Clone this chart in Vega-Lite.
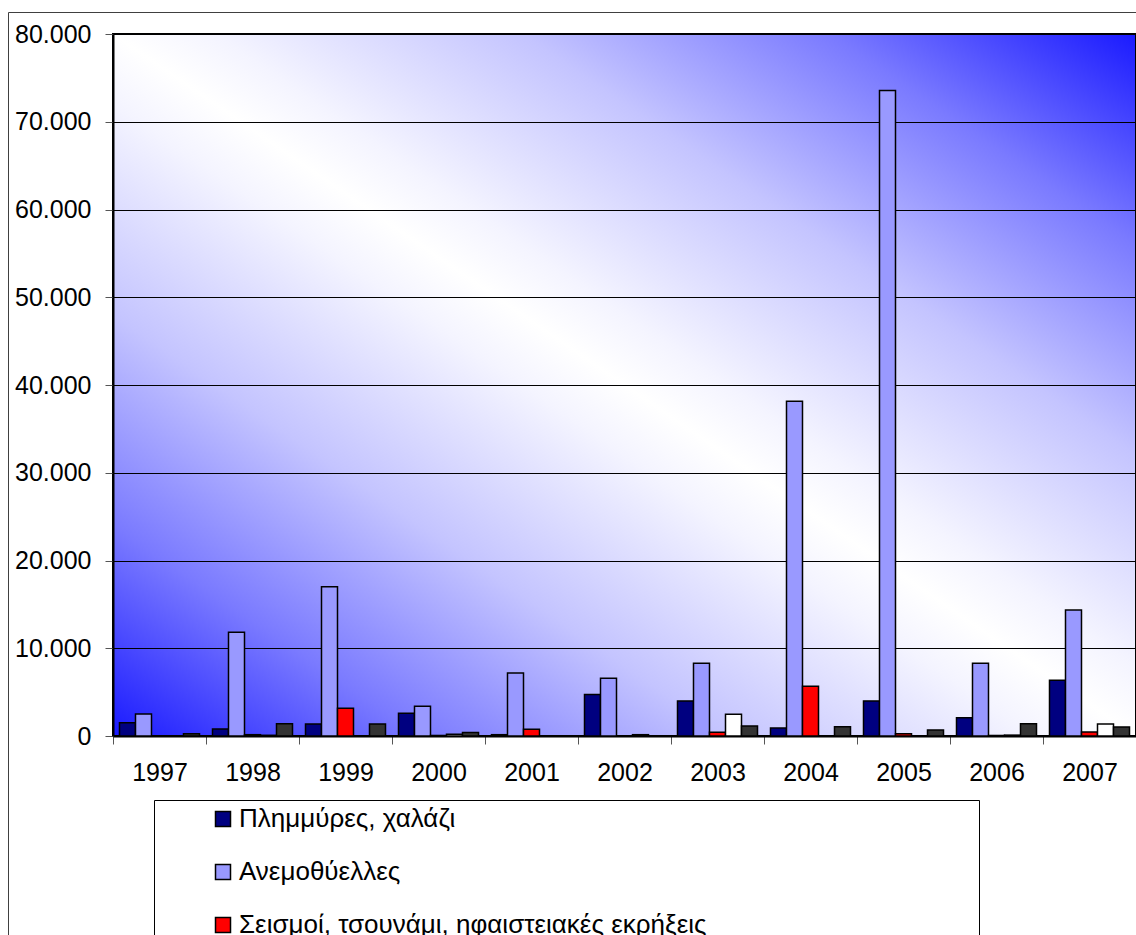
{
  "$schema": "https://vega.github.io/schema/vega-lite/v6.json",
  "width": 1023,
  "height": 702,
  "autosize": {"type": "none"},
  "padding": {"left": 113, "top": 34, "right": 0, "bottom": 199},
  "background": "white",
  "data": {
    "values": [
      {"year": "1997", "type": "Πλημμύρες, χαλάζι", "value": 1500},
      {"year": "1997", "type": "Ανεμοθύελλες", "value": 2500},
      {"year": "1997", "type": "Σεισμοί, τσουνάμι, ηφαιστειακές εκρήξεις", "value": 0},
      {"year": "1997", "type": "Ξηρασία, πυρκαγιές, καύσωνες", "value": 0},
      {"year": "1997", "type": "Ψύχος, παγετός, χιόνι", "value": 250},
      {"year": "1998", "type": "Πλημμύρες, χαλάζι", "value": 800},
      {"year": "1998", "type": "Ανεμοθύελλες", "value": 11820},
      {"year": "1998", "type": "Σεισμοί, τσουνάμι, ηφαιστειακές εκρήξεις", "value": 150},
      {"year": "1998", "type": "Ξηρασία, πυρκαγιές, καύσωνες", "value": 80},
      {"year": "1998", "type": "Ψύχος, παγετός, χιόνι", "value": 1400},
      {"year": "1999", "type": "Πλημμύρες, χαλάζι", "value": 1370},
      {"year": "1999", "type": "Ανεμοθύελλες", "value": 17000},
      {"year": "1999", "type": "Σεισμοί, τσουνάμι, ηφαιστειακές εκρήξεις", "value": 3150},
      {"year": "1999", "type": "Ξηρασία, πυρκαγιές, καύσωνες", "value": 0},
      {"year": "1999", "type": "Ψύχος, παγετός, χιόνι", "value": 1370},
      {"year": "2000", "type": "Πλημμύρες, χαλάζι", "value": 2590},
      {"year": "2000", "type": "Ανεμοθύελλες", "value": 3390},
      {"year": "2000", "type": "Σεισμοί, τσουνάμι, ηφαιστειακές εκρήξεις", "value": 60},
      {"year": "2000", "type": "Ξηρασία, πυρκαγιές, καύσωνες", "value": 200},
      {"year": "2000", "type": "Ψύχος, παγετός, χιόνι", "value": 400},
      {"year": "2001", "type": "Πλημμύρες, χαλάζι", "value": 150},
      {"year": "2001", "type": "Ανεμοθύελλες", "value": 7180},
      {"year": "2001", "type": "Σεισμοί, τσουνάμι, ηφαιστειακές εκρήξεις", "value": 770},
      {"year": "2001", "type": "Ξηρασία, πυρκαγιές, καύσωνες", "value": 0},
      {"year": "2001", "type": "Ψύχος, παγετός, χιόνι", "value": 0},
      {"year": "2002", "type": "Πλημμύρες, χαλάζι", "value": 4720},
      {"year": "2002", "type": "Ανεμοθύελλες", "value": 6590},
      {"year": "2002", "type": "Σεισμοί, τσουνάμι, ηφαιστειακές εκρήξεις", "value": 0},
      {"year": "2002", "type": "Ξηρασία, πυρκαγιές, καύσωνες", "value": 150},
      {"year": "2002", "type": "Ψύχος, παγετός, χιόνι", "value": 0},
      {"year": "2003", "type": "Πλημμύρες, χαλάζι", "value": 4000},
      {"year": "2003", "type": "Ανεμοθύελλες", "value": 8300},
      {"year": "2003", "type": "Σεισμοί, τσουνάμι, ηφαιστειακές εκρήξεις", "value": 420},
      {"year": "2003", "type": "Ξηρασία, πυρκαγιές, καύσωνες", "value": 2480},
      {"year": "2003", "type": "Ψύχος, παγετός, χιόνι", "value": 1140},
      {"year": "2004", "type": "Πλημμύρες, χαλάζι", "value": 910},
      {"year": "2004", "type": "Ανεμοθύελλες", "value": 38150},
      {"year": "2004", "type": "Σεισμοί, τσουνάμι, ηφαιστειακές εκρήξεις", "value": 5680},
      {"year": "2004", "type": "Ξηρασία, πυρκαγιές, καύσωνες", "value": 0},
      {"year": "2004", "type": "Ψύχος, παγετός, χιόνι", "value": 1060},
      {"year": "2005", "type": "Πλημμύρες, χαλάζι", "value": 4000},
      {"year": "2005", "type": "Ανεμοθύελλες", "value": 73550},
      {"year": "2005", "type": "Σεισμοί, τσουνάμι, ηφαιστειακές εκρήξεις", "value": 270},
      {"year": "2005", "type": "Ξηρασία, πυρκαγιές, καύσωνες", "value": 0},
      {"year": "2005", "type": "Ψύχος, παγετός, χιόνι", "value": 690},
      {"year": "2006", "type": "Πλημμύρες, χαλάζι", "value": 2090},
      {"year": "2006", "type": "Ανεμοθύελλες", "value": 8300},
      {"year": "2006", "type": "Σεισμοί, τσουνάμι, ηφαιστειακές εκρήξεις", "value": 60},
      {"year": "2006", "type": "Ξηρασία, πυρκαγιές, καύσωνες", "value": 100},
      {"year": "2006", "type": "Ψύχος, παγετός, χιόνι", "value": 1400},
      {"year": "2007", "type": "Πλημμύρες, χαλάζι", "value": 6360},
      {"year": "2007", "type": "Ανεμοθύελλες", "value": 14350},
      {"year": "2007", "type": "Σεισμοί, τσουνάμι, ηφαιστειακές εκρήξεις", "value": 460},
      {"year": "2007", "type": "Ξηρασία, πυρκαγιές, καύσωνες", "value": 1370},
      {"year": "2007", "type": "Ψύχος, παγετός, χιόνι", "value": 1030}
    ]
  },
  "mark": {"type": "bar", "stroke": "black", "strokeWidth": 1.5},
  "encoding": {
    "x": {
      "field": "year",
      "type": "nominal",
      "scale": {"paddingInner": 0, "paddingOuter": 0},
      "axis": {
        "title": null,
        "labelAngle": 0,
        "tickBand": "extent",
        "tickSize": 8,
        "tickColor": "#555555",
        "domainColor": "black",
        "domainWidth": 2,
        "labelFont": "Liberation Sans",
        "labelFontSize": 25,
        "labelColor": "black",
        "labelPadding": 16
      }
    },
    "xOffset": {
      "field": "type",
      "type": "nominal",
      "scale": {
        "domain": ["Πλημμύρες, χαλάζι", "Ανεμοθύελλες", "Σεισμοί, τσουνάμι, ηφαιστειακές εκρήξεις", "Ξηρασία, πυρκαγιές, καύσωνες", "Ψύχος, παγετός, χιόνι"],
        "paddingInner": 0,
        "paddingOuter": 0.406
      }
    },
    "y": {
      "field": "value",
      "type": "quantitative",
      "scale": {"domain": [0, 80000], "nice": false},
      "axis": {
        "title": null,
        "values": [0, 10000, 20000, 30000, 40000, 50000, 60000, 70000, 80000],
        "labelExpr": "replace(format(datum.value, ','), ',', '.')",
        "grid": true,
        "gridColor": "black",
        "gridWidth": 1,
        "gridOpacity": 1,
        "domainColor": "black",
        "domainWidth": 2,
        "tickColor": "#555555",
        "tickSize": 8,
        "labelFont": "Liberation Sans",
        "labelFontSize": 25,
        "labelColor": "black",
        "labelPadding": 14,
        "labelFlush": false
      }
    },
    "color": {
      "field": "type",
      "type": "nominal",
      "scale": {
        "domain": ["Πλημμύρες, χαλάζι", "Ανεμοθύελλες", "Σεισμοί, τσουνάμι, ηφαιστειακές εκρήξεις", "Ξηρασία, πυρκαγιές, καύσωνες", "Ψύχος, παγετός, χιόνι"],
        "range": ["#000080", "#9999ff", "#ff0000", "#ffffff", "#333333"]
      },
      "legend": {
        "orient": "none",
        "legendX": 41,
        "legendY": 766,
        "direction": "vertical",
        "title": null,
        "strokeColor": "black",
        "fillColor": "white",
        "padding": 6,
        "symbolType": "square",
        "symbolSize": 225,
        "symbolStrokeColor": "black",
        "symbolStrokeWidth": 1.5,
        "symbolOffset": 50,
        "labelFont": "Liberation Sans",
        "labelFontSize": 26,
        "labelColor": "black",
        "labelOffset": 3,
        "labelLimit": 0,
        "rowPadding": 27,
        "labelExpr": "datum.label + '\u2800\u2800\u2800\u2800\u2800\u2800\u2800\u2800\u2800\u2800\u2800\u2800\u2800\u2800'"
      }
    },
    "opacity": {
      "field": "year",
      "type": "ordinal",
      "scale": {"range": [1, 1]},
      "legend": {
        "orient": "none",
        "legendX": -105,
        "legendY": -22,
        "title": null,
        "values": ["1997"],
        "strokeColor": "#404040",
        "padding": 700,
        "symbolSize": 0,
        "symbolStrokeWidth": 0,
        "labelExpr": "''"
      }
    }
  },
  "config": {
    "view": {
      "stroke": "black",
      "strokeWidth": 2,
      "fill": {
        "gradient": "linear",
        "x1": 0, "y1": 1, "x2": 1, "y2": 0,
        "stops": [
          {"offset": 0, "color": "#1a1aff"},
          {"offset": 0.15, "color": "#7a7aff"},
          {"offset": 0.3, "color": "#c4c4ff"},
          {"offset": 0.45, "color": "#f4f4ff"},
          {"offset": 0.5, "color": "#ffffff"},
          {"offset": 0.55, "color": "#f4f4ff"},
          {"offset": 0.7, "color": "#c4c4ff"},
          {"offset": 0.85, "color": "#7a7aff"},
          {"offset": 1, "color": "#1a1aff"}
        ]
      }
    }
  }
}
